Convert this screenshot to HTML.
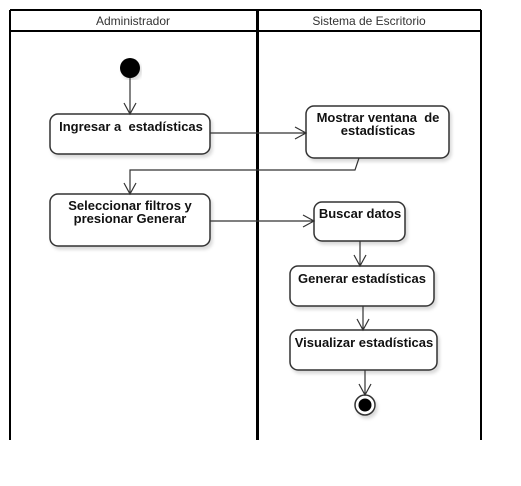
<!DOCTYPE html>
<html><head><style>body{margin:0;background:#fff} text{white-space:pre}</style></head><body>
<svg width="521" height="481" xmlns="http://www.w3.org/2000/svg" font-family="Liberation Sans, sans-serif">
<defs><filter id="s"><feDropShadow dx="2" dy="3" stdDeviation="1.5" flood-color="#000" flood-opacity="0.15"/></filter></defs>
<rect width="521" height="481" fill="#fff"/>
<g stroke="#000" fill="none">
<line x1="10" y1="10" x2="481" y2="10" stroke-width="2"/>
<line x1="10" y1="31" x2="481" y2="31" stroke-width="2"/>
<line x1="10" y1="10" x2="10" y2="440" stroke-width="2"/>
<line x1="481" y1="10" x2="481" y2="440" stroke-width="2"/>
<line x1="257.5" y1="10" x2="257.5" y2="440" stroke-width="3"/>
</g>
<text x="133" y="25" font-size="12" text-anchor="middle" fill="#333">Administrador</text>
<text x="369" y="25" font-size="12" text-anchor="middle" fill="#333">Sistema de Escritorio</text>
<circle cx="130" cy="68" r="10" fill="#000" filter="url(#s)"/>
<g fill="#fff" stroke="#333" stroke-width="1.5" filter="url(#s)">
<rect x="50" y="114" width="160" height="40" rx="8"/>
<rect x="306" y="106" width="143" height="52" rx="8"/>
<rect x="50" y="194" width="160" height="52" rx="8"/>
<rect x="314" y="202" width="91" height="39" rx="8"/>
<rect x="290" y="266" width="144" height="40" rx="8"/>
<rect x="290" y="330" width="147" height="40" rx="8"/>
<circle cx="365" cy="405" r="10"/>
</g>
<circle cx="365" cy="405" r="6.5" fill="#000"/>
<g stroke="#333" stroke-width="1.2" fill="none">
<path d="M130 78V114M124 103L130 114L136 103"/>
<path d="M210 133H306M295 127L306 133L295 139"/>
<path d="M359 158L355 170H130V194M124 183L130 194L136 183"/>
<path d="M210 221H314M303 215L314 221L303 227"/>
<path d="M360 241V266M354 255L360 266L366 255"/>
<path d="M363 306V330M357 319L363 330L369 319"/>
<path d="M365 370V395M359 384L365 395L371 384"/>
</g>
<g font-size="13" font-weight="bold" text-anchor="middle" fill="#111">
<text x="131" y="131" xml:space="preserve">Ingresar a  estadísticas</text>
<text x="378" y="122" xml:space="preserve">Mostrar ventana  de</text>
<text x="378" y="135">estadísticas</text>
<text x="130" y="210">Seleccionar filtros y</text>
<text x="130" y="223">presionar Generar</text>
<text x="360" y="218">Buscar datos</text>
<text x="362" y="283">Generar estadísticas</text>
<text x="364" y="347">Visualizar estadísticas</text>
</g>
</svg>
</body></html>
